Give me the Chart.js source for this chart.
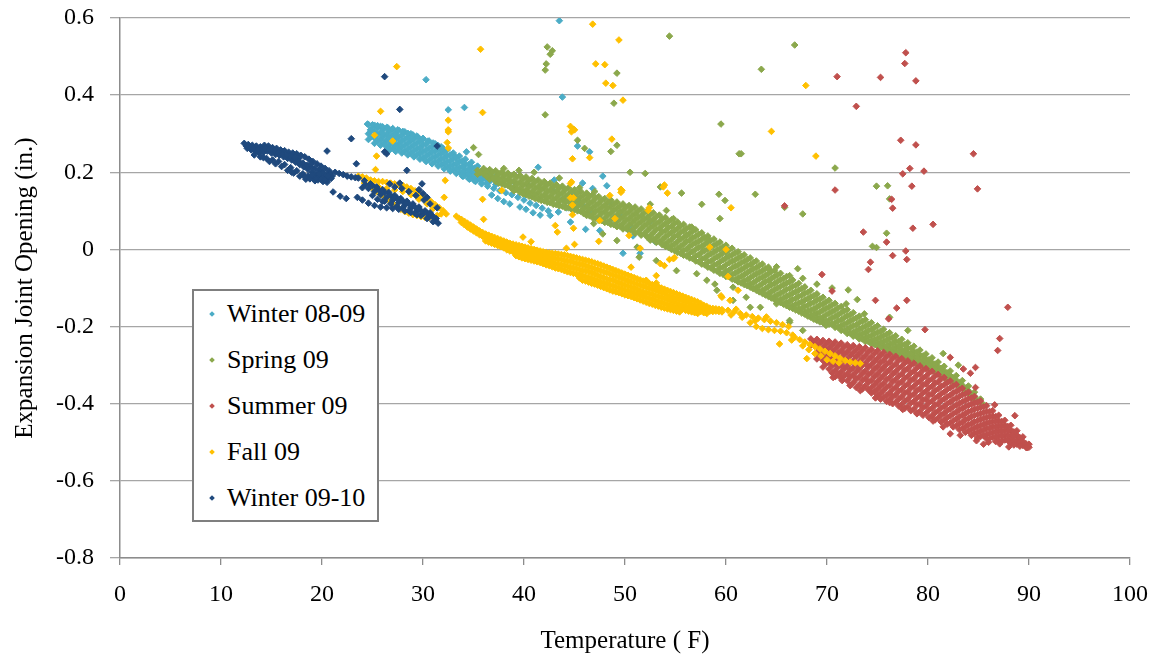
<!DOCTYPE html>
<html><head><meta charset="utf-8">
<script src="https://cdn.jsdelivr.net/npm/chart.js@4.4.0/dist/chart.umd.min.js"></script>
<style>
html,body{margin:0;padding:0;background:#fff;}
#wrap{position:relative;width:1155px;height:658px;overflow:hidden;}
#c{position:absolute;left:0;top:0;}
#legend{position:absolute;left:192px;top:289px;width:187px;height:233px;box-sizing:border-box;border:2px solid #7f7f7f;background:#fff;font-family:"Liberation Serif","Times New Roman",serif;font-size:26px;color:#000;}
.row{position:absolute;left:0;width:180px;height:46px;line-height:46px;white-space:nowrap;}
.mk{position:absolute;left:16px;top:21px;width:4px;height:4px;transform:rotate(45deg);}
.tx{position:absolute;left:33px;top:0;}
</style></head><body>
<div id="wrap"><canvas id="c" width="1155" height="658"></canvas><div id="legend"></div></div>
<script>
// ---------- data ----------
const seriesNames = ['Winter 08-09','Spring 09','Summer 09','Fall 09','Winter 09-10'];
const seriesColors = ['#4bacc6','#8ba84c','#c0504d','#ffc000','#1f497d'];
const xTicks = [0,10,20,30,40,50,60,70,80,90,100];
const yTickLabels = ['-0.8','-0.6','-0.4','-0.2','0','0.2','0.4','0.6'];

// Winter 08-09 : band columns [x, y1, y2, ...] and single points [x, y]
const winterACols = [[24.6,.324,.3,.285],[25.2,.322,.306,.289,.275],[25.8,.319,.303,.286,.27],[26.4,.316,.299,.282,.266],[27.0,.313,.295,.278,.263],[27.6,.309,.29,.274,.259],[28.2,.305,.286,.27,.254],[28.8,.3,.281,.265,.249],[29.4,.294,.276,.26,.244],[30.0,.288,.27,.254,.238],[30.6,.281,.263,.248,.232],[31.2,.274,.256,.241,.226],[31.8,.266,.249,.234,.22],[32.4,.258,.242,.227,.213],[33.0,.25,.235,.22,.206],[33.6,.242,.228,.213,.2],[34.2,.234,.22,.206,.194],[34.8,.226,.212,.199,.187],[35.4,.216,.204,.192,.181],[36.0,.206,.195,.184],[36.6,.198,.187,.176],[37.2,.19,.18,.168],
[24.9,.31,.293],[25.5,.315,.297,.28],[26.1,.311,.293,.276],[26.7,.307,.29,.273,.258],[27.3,.302,.286,.269,.254],[27.9,.297,.281,.265,.25],[28.5,.292,.276,.26,.245],[29.1,.286,.27,.255,.24],[29.7,.28,.264,.249,.234],[30.3,.274,.258,.243,.228],[30.9,.267,.252,.237,.222],[31.5,.26,.245,.23,.216],[32.1,.252,.237,.223,.209],[32.7,.245,.23,.216,.203],[33.3,.237,.223,.209,.197],[33.9,.229,.215,.202,.19],[34.5,.22,.207,.195,.184],[35.1,.211,.199,.187,.178],[35.7,.202,.191,.18],[36.3,.193,.182,.172]];
const winterAPts = [[24.5,.325],[25.0,.323],[25.5,.321],[26.0,.318],[26.5,.316],[27.0,.313],[27.5,.31],[28.0,.306],[28.5,.301],[29.0,.297],[29.5,.291],[30.0,.287],[30.5,.281],[31.0,.276],[31.5,.269],[32.0,.262],
[34.0,.19],[34.6,.182],[35.2,.176],[35.8,.17],[36.4,.164],[37.0,.158],[37.6,.152],[38.2,.147],[38.8,.142],[39.4,.135],[40.0,.128],[40.6,.12],[41.2,.114],[41.8,.107],[42.4,.1],[36.8,.141],[37.4,.132],[38.0,.124],[38.6,.118],[39.6,.11],[40.2,.104],[40.9,.095],[41.6,.089],[42.6,.088],[43.4,.097],[44.2,.108],[44.8,.118],[45.4,.126],[46.0,.11],[46.6,.098],[43.8,.13],[45.0,.142],
[32.5,.362],[34.1,.368],[43.5,.593],[43.8,.395],[30.3,.44],[45.3,.268],[46.5,.253],[31.8,.259],[33.2,.24],[34.3,.253],[41.4,.213],[47.8,.19],[46.8,.158],[44.6,.071],[47.5,.049],[49.8,-.01],[51.5,-.01],[42.9,.152],[45.8,.172],[48.5,.122],[49.5,.09],[50.5,.062],[52.5,.072],[46.1,.052],[39.0,.175],[40.5,.165],[43.0,.18],[48.2,.165],[50.8,.035],[53.0,.02],[26.0,.3],[27.2,.298],[28.8,.285],[24.8,.31]];

// Spring 09
const springCols = [[35.4,.205,.195],[36.0,.21,.196],[36.6,.207,.192,.182],[37.2,.204,.188,.176],[37.8,.201,.185,.17],[38.4,.198,.182,.166],[39.0,.195,.178,.161,.152],[39.6,.192,.175,.158,.148],[40.2,.188,.171,.154,.142],[40.8,.184,.167,.15,.136],[41.4,.18,.163,.146,.13],[42.0,.176,.159,.142,.126],[42.6,.172,.155,.138,.121],[43.2,.168,.151,.134,.116],[43.8,.164,.147,.13,.112],[44.4,.16,.143,.126,.108],[45.0,.155,.138,.121,.103],[45.6,.151,.134,.117,.099],[46.2,.146,.129,.112,.095,.088],[46.8,.142,.125,.108,.091,.082],[47.4,.137,.12,.103,.086,.076],[48.0,.132,.115,.098,.081,.07],[48.6,.128,.111,.094,.077,.065],[49.2,.123,.106,.089,.072,.059],[49.8,.118,.101,.084,.067,.053],[50.4,.114,.097,.08,.063,.048],[51.0,.11,.093,.076,.059,.042],[51.6,.105,.088,.071,.054,.037],[52.2,.1,.083,.066,.049,.032],[52.8,.095,.078,.061,.044,.026],[53.4,.089,.072,.055,.038,.02],[54.0,.083,.066,.049,.032,.014,.008],[54.6,.077,.06,.043,.026,.009,0],[55.2,.071,.054,.037,.02,.003,-.008],[55.8,.065,.048,.031,.014,-.003,-.015],[56.4,.058,.041,.024,.007,-.01,-.022],[57.0,.051,.034,.017,0,-.017,-.03],[57.6,.043,.026,.009,-.008,-.025,-.038],[58.2,.035,.018,.001,-.016,-.033,-.046],[58.8,.027,.01,-.007,-.024,-.041,-.054],[59.4,.019,.002,-.015,-.032,-.049,-.062],[60.0,.011,-.006,-.023,-.04,-.057,-.07],[60.6,.003,-.014,-.031,-.048,-.065,-.077],[61.2,-.006,-.023,-.04,-.057,-.074,-.084],[61.8,-.014,-.031,-.048,-.065,-.082,-.091],[62.4,-.022,-.039,-.056,-.073,-.09,-.098],[63.0,-.03,-.047,-.064,-.081,-.098,-.106],[63.6,-.038,-.055,-.072,-.089,-.106,-.114],[64.2,-.046,-.063,-.08,-.097,-.114,-.122],[64.8,-.054,-.071,-.088,-.105,-.122,-.13],[65.4,-.062,-.079,-.096,-.113,-.13,-.138],[66.0,-.07,-.087,-.104,-.121,-.138,-.146],[66.6,-.079,-.096,-.113,-.13,-.146,-.153],[67.2,-.088,-.105,-.122,-.139,-.154,-.16],[67.8,-.097,-.114,-.131,-.148,-.162,-.168],[68.4,-.106,-.123,-.14,-.157,-.17,-.176],[69.0,-.115,-.132,-.149,-.166,-.178,-.184],[69.6,-.124,-.141,-.158,-.175,-.186,-.19],[70.2,-.132,-.149,-.166,-.183,-.194],[70.8,-.14,-.157,-.174,-.191,-.202],[71.4,-.148,-.165,-.182,-.199,-.21],[72.0,-.156,-.173,-.19,-.207,-.218],[72.6,-.164,-.181,-.198,-.215,-.225],[73.2,-.173,-.19,-.207,-.222,-.232],[73.8,-.182,-.199,-.215,-.229,-.239],[74.4,-.19,-.207,-.223,-.236,-.245],[75.0,-.198,-.215,-.231,-.243,-.251],[75.6,-.207,-.223,-.238,-.25,-.257],[76.2,-.216,-.231,-.245,-.257,-.264],[76.8,-.224,-.239,-.253,-.264,-.271],[77.4,-.233,-.247,-.26,-.271,-.278],[78.0,-.242,-.256,-.268,-.279,-.286],[78.6,-.251,-.265,-.277,-.287,-.293],[79.2,-.261,-.274,-.286,-.295,-.3],[79.8,-.271,-.284,-.295,-.304],[80.4,-.281,-.294,-.305,-.313],[81.0,-.292,-.304,-.315,-.322],[81.6,-.303,-.315,-.325,-.332],[82.2,-.315,-.327,-.336,-.342],[82.8,-.327,-.339,-.348],[83.4,-.34,-.352,-.36],[84.0,-.354,-.366,-.374],[84.6,-.37,-.381,-.388],[85.2,-.388,-.398],[85.6,-.404]];
const springCols2 = [[35.7,.2],[36.3,.203,.189],[36.9,.2,.185],[37.5,.196,.181,.172],[38.1,.193,.177,.167],[38.7,.19,.174,.16],[39.3,.187,.17,.156],[39.9,.183,.166,.15,.144],[40.5,.179,.162,.146,.138],[41.1,.175,.158,.141,.132],[41.7,.171,.154,.137,.127],[42.3,.167,.15,.133,.122],[42.9,.163,.146,.129,.117],[43.5,.159,.142,.125,.113],[44.1,.155,.138,.121,.108],[44.7,.15,.133,.116,.104],[45.3,.146,.129,.112,.1],[45.9,.141,.124,.107,.093],[46.5,.137,.12,.103,.087],[47.1,.132,.115,.098,.081],[47.7,.127,.11,.093,.075],[48.3,.123,.106,.089,.07],[48.9,.118,.101,.084,.064],[49.5,.113,.096,.079,.06],[50.1,.109,.092,.075,.055],[50.7,.104,.087,.07,.05],[51.3,.1,.083,.066,.046],[51.9,.095,.078,.061,.041],[52.5,.09,.073,.056,.036,.024],[53.1,.085,.068,.051,.031,.018],[53.7,.079,.062,.045,.026,.012],[54.3,.073,.056,.039,.02,.005],[54.9,.067,.05,.033,.014,-.003],[55.5,.061,.044,.027,.008,-.01],[56.1,.054,.037,.02,.001,-.017],[56.7,.047,.03,.013,-.006,-.024],[57.3,.039,.022,.005,-.014,-.032],[57.9,.031,.014,-.003,-.022,-.04],[58.5,.023,.006,-.011,-.03,-.048],[59.1,.015,-.002,-.019,-.038,-.056],[59.7,.007,-.01,-.027,-.046,-.064],[60.3,-.001,-.018,-.035,-.054,-.071],[60.9,-.01,-.027,-.044,-.062,-.079],[61.5,-.018,-.035,-.052,-.07,-.087],[62.1,-.026,-.043,-.06,-.078,-.094],[62.7,-.034,-.051,-.068,-.086,-.102],[63.3,-.042,-.059,-.076,-.094,-.11],[63.9,-.05,-.067,-.084,-.102,-.118],[64.5,-.058,-.075,-.092,-.11,-.126],[65.1,-.066,-.083,-.1,-.118,-.134],[65.7,-.075,-.092,-.109,-.126,-.142],[66.3,-.084,-.101,-.118,-.134,-.15],[66.9,-.093,-.11,-.127,-.143,-.157],[67.5,-.102,-.119,-.136,-.152,-.165],[68.1,-.111,-.128,-.145,-.16,-.173],[68.7,-.12,-.137,-.154,-.169,-.181],[69.3,-.128,-.145,-.162,-.177,-.188],[69.9,-.136,-.153,-.17,-.186,-.197],[70.5,-.144,-.161,-.178,-.194],[71.1,-.152,-.169,-.186,-.202],[71.7,-.16,-.177,-.194,-.21],[72.3,-.169,-.186,-.202,-.217],[72.9,-.178,-.195,-.21,-.224],[73.5,-.186,-.203,-.218,-.232],[74.1,-.194,-.211,-.226,-.239],[74.7,-.203,-.219,-.234,-.246],[75.3,-.212,-.227,-.241,-.253],[75.9,-.22,-.235,-.249,-.26],[76.5,-.229,-.243,-.257,-.267],[77.1,-.238,-.252,-.264,-.275],[77.7,-.247,-.261,-.273,-.282],[78.3,-.256,-.27,-.282,-.29],[78.9,-.266,-.279,-.29,-.297],[79.5,-.276,-.289,-.3],[80.1,-.286,-.299,-.309],[80.7,-.297,-.309,-.318],[81.3,-.308,-.32,-.328],[81.9,-.32,-.332,-.34],[82.5,-.333,-.344],[83.1,-.346,-.357],[83.7,-.36,-.371],[84.3,-.376,-.385],[84.9,-.392]];
const springScatter = [[42.3,.525],[42.8,.515],[42.6,.506],[42.2,.481],[42.1,.465],[54.4,.553],[49.2,.457],[48.9,.379],[42.1,.349],[59.5,.325],[44.9,.311],[45.3,.283],[46.0,.262],[49.2,.27],[48.6,.254],[35.0,.264],[35.5,.246],[61.3,.248],[66.8,.53],[63.5,.467],[61.5,.248],[70.8,.211],[74.9,.164],[76.0,.165],[62.9,.143],[76.2,.131],[67.6,.092],[75.9,.042],[74.5,.008],[74.9,.005],[50.5,.2],[52.0,.197],[53.5,.162],[55.6,.146],[57.6,.117],[59.3,.143],[59.9,.127],[65.8,.109],[59.4,.08],[52.5,.117],[54.1,.101],[54.8,.08],[56.6,.058],[56.1,.036],[58.2,.026],[46.9,.067],[47.8,.04],[49.2,.023],[51.2,.006],[51.4,-.02],[53.1,-.029],[55.1,-.055],[57.1,-.063],[58.1,-.08],[58.9,-.09],[60.7,-.098],[62.0,-.124],[63.4,-.15],[65.0,-.141],[66.3,-.184],[64.2,-.05],[65.0,-.045],[67.1,-.05],[66.3,-.068],[67.6,-.075],[72.1,-.105],[71.9,-.141],[73.7,-.167],[76.2,-.176],[66.3,-.189],[67.6,-.21],[59.1,-.106],[60.7,-.132],[62.4,-.15],[80.5,-.314],[79.2,-.293],[39.5,.205],[41.0,.2],[43.5,.185],[38.0,.21],[45.5,.16],[47.0,.15],[69.0,-.09],[70.5,-.1],[73.0,-.13],[78.0,-.21],[81.5,-.27],[83.0,-.3]];

// Summer 09
const summerCols = [[68.4,-.232,-.248],[69.0,-.233,-.25,-.268,-.284],[69.6,-.236,-.253,-.27,-.288,-.305],[70.2,-.238,-.256,-.274,-.292,-.31],[70.8,-.24,-.258,-.277,-.296,-.314,-.33],[71.4,-.243,-.262,-.281,-.3,-.318,-.334],[72.0,-.247,-.265,-.284,-.303,-.322,-.34],[72.6,-.249,-.268,-.288,-.307,-.326,-.345],[73.2,-.252,-.271,-.291,-.31,-.33,-.35],[73.8,-.255,-.275,-.295,-.315,-.334,-.354],[74.4,-.259,-.279,-.299,-.319,-.339,-.358,-.372],[75.0,-.263,-.283,-.303,-.323,-.343,-.362,-.378],[75.6,-.267,-.287,-.307,-.327,-.347,-.366,-.384],[76.2,-.272,-.292,-.312,-.332,-.352,-.372,-.39],[76.8,-.277,-.297,-.317,-.337,-.357,-.377,-.396],[77.4,-.283,-.303,-.323,-.343,-.363,-.382,-.402],[78.0,-.289,-.309,-.329,-.349,-.369,-.388,-.408],[78.6,-.295,-.315,-.335,-.355,-.375,-.394,-.414],[79.2,-.302,-.322,-.342,-.361,-.381,-.4,-.42],[79.8,-.309,-.329,-.348,-.368,-.387,-.406,-.425],[80.4,-.316,-.336,-.355,-.374,-.393,-.412,-.431],[81.0,-.324,-.343,-.362,-.381,-.4,-.419,-.437],[81.6,-.332,-.351,-.37,-.388,-.407,-.425,-.443],[82.2,-.341,-.359,-.378,-.396,-.414,-.432,-.45],[82.8,-.35,-.368,-.386,-.404,-.422,-.44,-.457],[83.4,-.36,-.377,-.395,-.412,-.43,-.448,-.464],[84.0,-.37,-.387,-.404,-.421,-.438,-.455,-.471],[84.6,-.381,-.398,-.414,-.43,-.447,-.463,-.478],[85.2,-.393,-.409,-.425,-.44,-.456,-.471,-.485],[85.8,-.405,-.42,-.435,-.45,-.465,-.479,-.491],[86.4,-.418,-.432,-.446,-.46,-.474,-.487],[87.0,-.43,-.444,-.457,-.47,-.483,-.496],[87.6,-.443,-.456,-.469,-.482,-.494],[88.2,-.456,-.469,-.481,-.493,-.503],[88.8,-.47,-.482,-.494,-.505],[89.4,-.486,-.498,-.508],[90.0,-.505,-.513]];
const summerCols2 = [[68.7,-.24],[69.3,-.242,-.259,-.276],[69.9,-.245,-.262,-.279,-.296],[70.5,-.247,-.265,-.283,-.301,-.32],[71.1,-.25,-.268,-.287,-.305,-.324],[71.7,-.253,-.272,-.29,-.309,-.327],[72.3,-.256,-.275,-.294,-.313,-.331,-.352],[72.9,-.26,-.279,-.298,-.317,-.336,-.358],[73.5,-.263,-.282,-.301,-.321,-.34,-.362],[74.1,-.266,-.286,-.305,-.325,-.344,-.364],[74.7,-.27,-.29,-.31,-.33,-.35,-.369],[75.3,-.274,-.294,-.314,-.334,-.354,-.373,-.388],[75.9,-.278,-.298,-.318,-.338,-.358,-.378,-.394],[76.5,-.283,-.303,-.323,-.343,-.363,-.382,-.4],[77.1,-.288,-.308,-.328,-.348,-.368,-.388,-.406],[77.7,-.294,-.314,-.334,-.354,-.373,-.393,-.412],[78.3,-.3,-.32,-.34,-.36,-.379,-.398,-.418],[78.9,-.307,-.326,-.346,-.366,-.385,-.404,-.424],[79.5,-.313,-.333,-.352,-.372,-.391,-.41,-.43],[80.1,-.32,-.34,-.359,-.378,-.397,-.416,-.436],[80.7,-.328,-.347,-.366,-.385,-.404,-.423,-.442],[81.3,-.336,-.355,-.374,-.392,-.411,-.43,-.447],[81.9,-.345,-.363,-.382,-.4,-.418,-.436,-.453],[82.5,-.354,-.372,-.39,-.408,-.426,-.444,-.46],[83.1,-.364,-.381,-.399,-.416,-.434,-.451,-.467],[83.7,-.374,-.391,-.408,-.425,-.442,-.459,-.474],[84.3,-.385,-.401,-.418,-.434,-.451,-.467,-.482],[84.9,-.396,-.412,-.428,-.444,-.46,-.475,-.489],[85.5,-.408,-.423,-.438,-.453,-.468,-.483],[86.1,-.42,-.434,-.449,-.463,-.477,-.49],[86.7,-.433,-.446,-.46,-.473,-.486,-.498],[87.3,-.446,-.459,-.472,-.484,-.497],[87.9,-.459,-.471,-.483,-.495],[88.5,-.473,-.485,-.497,-.507],[89.1,-.488,-.5,-.51],[89.7,-.504,-.513]];
const summerScatter = [[76.5,-.016],[77.9,-.026],[74.3,-.033],[74.1,-.052],[69.5,-.065],[70.5,-.108],[74.8,-.132],[77.9,-.132],[76.9,-.152],[76.1,-.18],[87.9,-.15],[79.7,-.208],[87.1,-.231],[86.9,-.262],[82.2,-.28],[83.5,-.31],[84.7,-.306],[84.2,-.321],[84.7,-.358],[88.6,-.431],[86.6,-.403],[77.8,.51],[77.7,.482],[71.0,.448],[75.3,.446],[78.8,.437],[72.9,.371],[77.3,.283],[78.8,.271],[84.5,.248],[78.2,.21],[79.6,.203],[77.5,.196],[78.4,.164],[84.9,.157],[70.8,.154],[76.4,.13],[76.5,.107],[65.8,.113],[80.5,.065],[78.5,.055],[73.6,.045],[75.9,.019],[77.8,-.004],[70.6,-.332],[72.3,-.353],[73.3,-.366],[76.2,-.397],[78.9,-.426],[82.2,-.478],[84.8,-.496],[87.1,-.504],[89.8,-.514],[71.5,-.34],[74.8,-.385],[77.5,-.415],[80.5,-.445],[81.5,-.46],[83.2,-.482],[86.0,-.5],[88.0,-.512],[85.5,-.505]];

// Fall 09
const fallCols = [[33.3,.086],[33.8,.078,.07],[34.4,.068,.058],[35.0,.058,.048],[35.6,.048,.038],[36.2,.04,.03,.022],[36.8,.034,.024,.016],[37.4,.028,.018,.01],[38.0,.022,.012,.004],[38.6,.016,.006,-.004],[39.2,.012,.002,-.008,-.016],[39.8,.008,-.002,-.012,-.022],[40.4,.004,-.006,-.016,-.026],[41.0,0,-.01,-.02,-.03],[41.6,-.004,-.014,-.024,-.034],[42.2,-.008,-.018,-.028,-.04],[42.8,-.01,-.022,-.034,-.045],[43.4,-.012,-.025,-.038,-.05],[44.0,-.014,-.028,-.042,-.055],[44.6,-.018,-.032,-.046,-.06],[45.2,-.022,-.036,-.05,-.064],[45.8,-.026,-.04,-.054,-.068,-.08],[46.4,-.03,-.044,-.058,-.072,-.085],[47.0,-.035,-.05,-.064,-.078,-.09],[47.6,-.04,-.055,-.07,-.084,-.096],[48.2,-.046,-.06,-.076,-.09,-.102],[48.8,-.052,-.066,-.08,-.095,-.108],[49.4,-.058,-.072,-.086,-.1,-.112],[50.0,-.064,-.078,-.092,-.105,-.118],[50.6,-.07,-.084,-.098,-.11,-.122],[51.2,-.076,-.09,-.104,-.116,-.128],[51.8,-.082,-.096,-.11,-.122,-.134],[52.4,-.088,-.1,-.114,-.127,-.14],[53.0,-.094,-.106,-.12,-.132,-.145],[53.6,-.1,-.112,-.125,-.138,-.15],[54.2,-.106,-.118,-.13,-.142,-.154],[54.8,-.112,-.124,-.136,-.148,-.158],[55.4,-.118,-.13,-.142,-.152,-.162],[56.0,-.124,-.136,-.148,-.158],[56.6,-.13,-.142,-.152,-.162],[57.2,-.136,-.148,-.158,-.166],[57.8,-.145,-.155,-.164],[58.4,-.152,-.16],[59.0,-.154,-.16],[59.6,-.156,-.162]];
const fallCols2 = [[33.6,.08],[34.1,.073,.064],[34.7,.063,.053],[35.3,.053,.043],[35.9,.044,.034],[36.5,.037,.027,.019],[37.1,.031,.021,.013],[37.7,.025,.015,.007],[38.3,.019,.009,-.001],[38.9,.014,.004,-.006],[39.5,.01,0,-.01,-.019],[40.1,.006,-.004,-.014,-.024],[40.7,.002,-.008,-.018,-.028],[41.3,-.002,-.012,-.022,-.032],[41.9,-.006,-.016,-.026,-.037],[42.5,-.009,-.02,-.031,-.042],[43.1,-.011,-.023,-.036,-.048],[43.7,-.013,-.026,-.04,-.052],[44.3,-.016,-.03,-.044,-.058],[44.9,-.02,-.034,-.048,-.062],[45.5,-.024,-.038,-.052,-.066,-.074],[46.1,-.028,-.042,-.056,-.07,-.082],[46.7,-.032,-.047,-.061,-.075,-.088],[47.3,-.037,-.052,-.067,-.081,-.093],[47.9,-.043,-.058,-.073,-.087,-.099],[48.5,-.049,-.063,-.078,-.092,-.105],[49.1,-.055,-.069,-.083,-.097,-.11],[49.7,-.061,-.075,-.089,-.102,-.115],[50.3,-.067,-.081,-.095,-.108,-.12],[50.9,-.073,-.087,-.101,-.113,-.125],[51.5,-.079,-.093,-.107,-.119,-.131],[52.1,-.085,-.098,-.112,-.124,-.137],[52.7,-.091,-.103,-.117,-.13,-.142],[53.3,-.097,-.109,-.122,-.135,-.147],[53.9,-.103,-.115,-.128,-.14,-.152],[54.5,-.109,-.121,-.133,-.145,-.156],[55.1,-.115,-.127,-.139,-.15,-.16],[55.7,-.121,-.133,-.145,-.155],[56.3,-.127,-.139,-.15,-.16],[56.9,-.133,-.145,-.155,-.164],[57.5,-.14,-.151,-.161],[58.1,-.148,-.157,-.166],[58.7,-.153,-.161],[59.3,-.155,-.161]];
const fallCluster = [[23.6,.19],[24.0,.188],[24.4,.185],[24.8,.18],[25.2,.178],[25.6,.176],[26.0,.176],[26.4,.174],[26.8,.172],[27.2,.17],[27.6,.168],[28.0,.166],[28.4,.162],[28.8,.158],[29.2,.152],[29.6,.146],[30.0,.14],[30.4,.132],[30.8,.124],[31.2,.116],[31.6,.108],[32.0,.1],[32.3,.092],
[24.2,.172],[24.6,.165],[25.0,.158],[25.4,.15],[25.8,.142],[26.2,.135],[26.6,.128],[27.0,.12],[27.4,.112],[27.8,.104],[28.2,.098],[28.6,.094],[29.0,.09],[29.4,.088],[29.8,.085],[30.2,.083],[30.6,.082],[31.0,.084],[31.4,.088],[31.8,.092],
[24.8,.17],[25.6,.162],[26.4,.158],[27.2,.154],[28.0,.15],[28.8,.142],[29.6,.13],[30.4,.118],[31.0,.106]];
const fallThin = [[60.2,-.158],[60.8,-.162],[61.4,-.166],[62.0,-.17],[62.6,-.174],[63.2,-.178],[63.8,-.182],[64.4,-.186],[65.0,-.19],[65.6,-.195],[66.2,-.2],[62.4,-.19],[63.0,-.2],[63.6,-.205],[64.2,-.208],[64.8,-.21],[65.4,-.212],[66.0,-.216],[66.6,-.222],[66.8,-.228],[67.3,-.234],[67.8,-.24],[68.3,-.246],[68.8,-.252],[69.3,-.258],[69.8,-.264],[70.3,-.27],[70.8,-.276],[71.3,-.282],[71.8,-.288],[72.3,-.292],[72.8,-.294],[73.3,-.296],[67.6,-.25],[68.2,-.26],[68.8,-.27],[69.4,-.276],[70.0,-.286],[70.6,-.29],[71.2,-.294],[60.5,-.17],[61.6,-.176],[62.9,-.185],[65.3,-.245],[68.0,-.283],[66.5,-.235],[61.0,-.155],[64.0,-.175]];
const fallScatter = [[25.8,.358],[27.4,.474],[25.2,.296],[25.4,.242],[25.3,.207],[27.0,.281],[32.5,.335],[32.5,.305],[32.4,.277],[32.5,.263],[32.2,.179],[32.1,.135],[35.9,.13],[36.0,.078],[37.8,.153],[35.9,.355],[35.7,.519],[44.6,.319],[44.7,.305],[45.0,.31],[46.8,.584],[49.4,.543],[47.1,.481],[48.0,.479],[48.1,.431],[48.8,.425],[49.8,.387],[48.7,.286],[44.8,.235],[46.5,.238],[67.9,.425],[64.5,.306],[68.9,.242],[44.6,.171],[44.6,.134],[44.9,.134],[49.7,.153],[48.5,.14],[49.0,.08],[43.1,.062],[43.3,.045],[45.0,.013],[47.5,.075],[52.3,.101],[53.8,.162],[54.8,-.024],[53.5,-.037],[58.4,.006],[60.0,0],[59.5,-.12],[39.9,.032],[40.7,.02],[44.7,.175],[49.6,.156],[49.6,.148],[54.2,.146],[52.4,.108],[60.5,.108],[44.8,.115],[44.8,.09],[44.9,.055],[47.4,.021],[44.2,.003],[51.5,.003],[50.6,-.046],[52.1,-.08],[53.1,-.068],[53.1,-.087],[54.4,-.026],[53.9,-.042],[54.9,-.021],[60.2,-.07],[59.6,-.124],[61.2,-.106],[60.4,-.132],[50.4,.036],[53.9,.167],[32.5,.31]];

// Winter 09-10
const winterB = [[12.3,.275],[12.7,.272],[13.1,.27],[13.5,.268],[13.9,.266],[14.3,.27],[14.7,.268],[15.1,.264],[15.5,.262],[15.9,.258],[16.3,.256],[16.7,.252],[17.1,.25],[17.5,.248],[17.9,.244],[18.3,.24],[18.7,.234],[19.1,.228],[19.5,.222],[19.9,.216],[20.3,.21],[20.7,.204],
[12.6,.262],[13.0,.258],[13.4,.255],[13.8,.25],[14.2,.252],[14.6,.255],[15.0,.25],[15.4,.246],[15.8,.244],[16.2,.24],[16.6,.236],[17.0,.232],[17.4,.226],[17.8,.22],[18.2,.214],[18.6,.208],[19.0,.2],[19.4,.196],[19.8,.19],[20.2,.186],[20.6,.184],
[13.3,.245],[13.9,.24],[14.5,.236],[15.1,.232],[15.7,.228],[16.3,.22],[16.9,.212],[17.5,.204],[18.1,.196],[18.6,.19],[19.1,.185],[19.6,.18],[20.1,.176],[20.5,.174],[19.3,.178],[18.4,.182],[12.9,.266],[14.0,.26],[16.0,.25],[17.7,.236],[18.9,.215],[20.0,.2],[21.0,.19],
[12.5,.268],[13.2,.262],[13.7,.26],[14.4,.262],[14.8,.26],[15.3,.256],[15.7,.252],[16.1,.247],[16.5,.244],[16.9,.24],[17.3,.238],[17.7,.228],[18.1,.224],[18.5,.218],[18.9,.222],[19.3,.21],[19.7,.205],[20.1,.198],[20.4,.192],[20.8,.196],[17.2,.198],[17.8,.19],[18.3,.188],[18.8,.183],[19.4,.184],[19.9,.182],[20.3,.18],[20.9,.184],[16.6,.205],[16.0,.215],[15.4,.222],[14.8,.228],[14.2,.238],[17.0,.2],[19.0,.192],[19.7,.196],[20.6,.19],
[21.3,.2],[21.7,.197],[22.1,.194],[22.5,.19],[22.9,.188],[23.3,.186],
[20.5,.255],[22.9,.287],[23.4,.222],[21.1,.149],[21.8,.138],[22.4,.132],[26.2,.448],[27.7,.363],[26.2,.253],[28.4,.205],[31.4,.268],[27.7,.172],[26.7,.17],[29.9,.17],[30.0,.145],[31.4,.108],[26.4,.248],
[23.6,.185],[24.2,.178],[24.8,.17],[25.4,.162],[26.0,.155],[26.6,.148],[27.2,.14],[27.8,.132],[28.4,.125],[29.0,.118],[29.6,.11],[30.2,.1],[30.8,.09],[31.3,.08],
[24.6,.158],[25.2,.15],[25.8,.142],[26.4,.135],[27.0,.128],[27.6,.122],[28.2,.115],[28.8,.108],[29.4,.1],[30.0,.092],[30.6,.084],[31.2,.074],[25.5,.13],[26.2,.125],[26.8,.118],[27.4,.112],[28.0,.108],[28.6,.1],[29.2,.094],[29.8,.088],[30.4,.08],[31.0,.072],[31.5,.068],
[23.5,.135],[24.0,.128],[24.6,.12],[25.2,.114],[25.8,.11],[26.4,.108],[27.0,.106],[27.6,.104],[28.2,.1],[28.8,.096],[29.4,.09],
[25.0,.165],[25.6,.155],[26.2,.148],[26.8,.14],[27.4,.133],[28.0,.125],[28.6,.118],[29.2,.11],[29.8,.1],[30.4,.094],[31.0,.085],[24.3,.168],[25.9,.15],[27.1,.135],[28.3,.12],[29.5,.105],[30.7,.095],
[27.2,.162],[27.9,.158],[28.6,.15],[29.3,.14],[30.1,.128],[30.7,.118],[29.6,.155],[30.4,.135],[24.0,.16],[25.0,.14],[26.0,.125]];

// ---------- helpers ----------
const pts = a => a.map(p => ({x: p[0], y: p[1]}));
const cols = a => { const out = []; a.forEach(c => { for (let i = 1; i < c.length; i++) out.push({x: c[0], y: c[i]}); }); return out; };

const seriesData = [
  cols(winterACols).concat(pts(winterAPts)),
  cols(springCols).concat(cols(springCols2), pts(springScatter)),
  cols(summerCols).concat(cols(summerCols2), pts(summerScatter)),
  cols(fallCols).concat(cols(fallCols2), pts(fallCluster), pts(fallThin), pts(fallScatter)),
  pts(winterB)
];
const drawOrder = [4, 3, 2, 1, 0];

const FONT = '"Liberation Serif", "Times New Roman", serif';
Chart.defaults.color = '#000';
Chart.defaults.font.family = FONT;

const datasets = seriesNames.map((n, i) => ({
  label: n,
  data: seriesData[i],
  order: drawOrder[i],
  pointStyle: 'rectRot',
  pointRadius: 3.3,
  pointBorderWidth: 1,
  pointBackgroundColor: seriesColors[i],
  pointBorderColor: seriesColors[i],
  backgroundColor: seriesColors[i],
  borderColor: seriesColors[i],
  showLine: false
}));

new Chart(document.getElementById('c'), {
  type: 'scatter',
  data: { datasets },
  options: {
    responsive: false,
    animation: false,
    events: [],
    layout: { padding: { left: 0, right: 25, top: 18, bottom: 0 } },
    plugins: { legend: { display: false }, tooltip: { enabled: false } },
    scales: {
      x: {
        type: 'linear', position: 'bottom', min: 0, max: 100,
        afterFit: s => { s.height = 100; s.paddingLeft = 0; s.paddingRight = 0; },
        afterBuildTicks: s => { s.ticks = xTicks.map(v => ({value: v})); },
        ticks: { stepSize: 10, autoSkip: false, maxRotation: 0, padding: 15, color: '#000', font: { family: FONT, size: 24 } },
        grid: { drawOnChartArea: false, drawTicks: true, tickLength: 7, color: '#8c8c8c', lineWidth: 1.3 },
        border: { display: true, color: '#8c8c8c', width: 1.5 },
        title: { display: true, text: 'Temperature ( F)', color: '#000', font: { family: FONT, size: 25 }, padding: { top: 0, bottom: 2 } }
      },
      y: {
        type: 'linear', position: 'left', min: -0.8, max: 0.6,
        afterFit: s => { s.width = 120; s.paddingTop = 0; s.paddingBottom = 0; },
        ticks: { stepSize: 0.2, padding: 16, color: '#000', font: { family: FONT, size: 24 },
          callback: (v) => { const i = Math.round((v + 0.8) / 0.2); return yTickLabels[i]; } },
        grid: { color: '#a6a6a6', lineWidth: 1.3, drawTicks: true, tickLength: 10 },
        border: { display: true, color: '#8c8c8c', width: 1.5 },
        title: { display: true, text: 'Expansion Joint Opening (in.)', color: '#000', font: { family: FONT, size: 25 }, padding: { top: 10, bottom: 0 } }
      }
    }
  }
});

// ---------- legend (HTML, from the dataset names/colours) ----------
const lg = document.getElementById('legend');
seriesNames.forEach((n, i) => {
  const row = document.createElement('div');
  row.className = 'row';
  row.style.top = (i * 46) + 'px';
  const mk = document.createElement('div');
  mk.className = 'mk';
  mk.style.background = seriesColors[i];
  const tx = document.createElement('span');
  tx.className = 'tx';
  tx.textContent = n;
  row.appendChild(mk); row.appendChild(tx);
  lg.appendChild(row);
});
</script>
</body></html>
